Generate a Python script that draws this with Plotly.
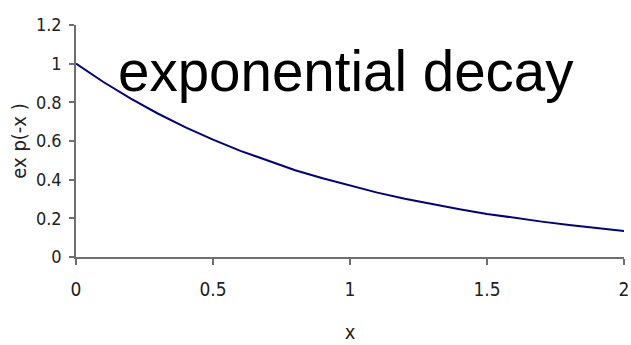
import plotly.graph_objects as go

# sampled x values and exp(-x) readings
x_vals = [0.0, 0.1, 0.2, 0.3, 0.4, 0.5, 0.6, 0.7, 0.8, 0.9, 1.0,
          1.1, 1.2, 1.3, 1.4, 1.5, 1.6, 1.7, 1.8, 1.9, 2.0]
y_vals = [1.000, 0.905, 0.819, 0.741, 0.670, 0.607, 0.549, 0.497, 0.449, 0.407, 0.368,
          0.333, 0.301, 0.273, 0.247, 0.223, 0.202, 0.183, 0.165, 0.150, 0.135]

x_ticks = [0, 0.5, 1, 1.5, 2]
x_tick_text = ["0", "0.5", "1", "1.5", "2"]
y_ticks = [0, 0.2, 0.4, 0.6, 0.8, 1, 1.2]
y_tick_text = ["0", "0.2", "0.4", "0.6", "0.8", "1", "1.2"]

narrow = "DejaVu Sans Condensed, Liberation Sans Narrow, sans-serif"
axis_grey = "#6f6f6f"
label_col = "#222222"

fig = go.Figure()
fig.add_trace(go.Scatter(
    x=x_vals, y=y_vals, mode="lines",
    line=dict(color="#000080", width=2),
    showlegend=False, hoverinfo="skip",
))

fig.add_annotation(
    x=0.985, y=0.957, xref="x", yref="y",
    text="exponential decay", showarrow=False,
    font=dict(family="Liberation Sans, Arial, sans-serif", size=56.5, color="#000000"),
    xanchor="center", yanchor="middle",
)

fig.update_xaxes(
    range=[0, 2], tickvals=x_ticks, ticktext=x_tick_text,
    showgrid=False, zeroline=False,
    showline=True, linecolor=axis_grey, linewidth=1.5,
    ticks="outside", ticklen=6, tickwidth=1.5, tickcolor=axis_grey,
    ticklabeloverflow="allow", ticklabelstandoff=8,
    tickfont=dict(family=narrow, size=19, color=label_col),
    title=dict(text="x", font=dict(family=narrow, size=20, color=label_col), standoff=26),
)
fig.update_yaxes(
    range=[0, 1.2], tickvals=y_ticks, ticktext=y_tick_text,
    showgrid=False, zeroline=False,
    showline=True, linecolor=axis_grey, linewidth=1.5,
    ticks="outside", ticklen=5, tickwidth=1.5, tickcolor=axis_grey,
    ticklabelstandoff=4,
    tickfont=dict(family=narrow, size=18, color=label_col),
    title=dict(text="ex p(-x )", font=dict(family=narrow, size=20, color=label_col), standoff=4),
)

fig.update_layout(
    width=631, height=345,
    margin=dict(l=76, r=2, t=25, b=88),
    paper_bgcolor="white", plot_bgcolor="white",
)

fig.write_html("out.html")
